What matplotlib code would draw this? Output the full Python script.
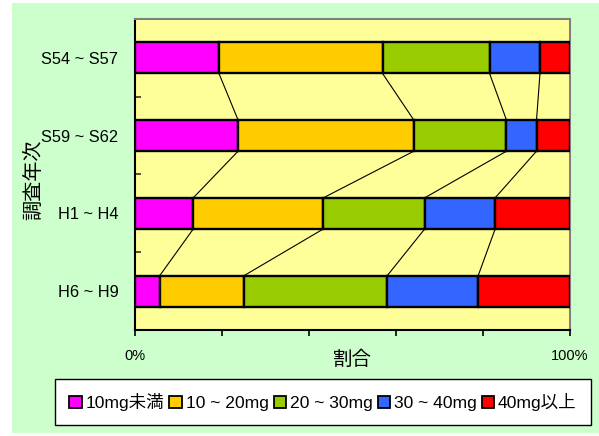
import matplotlib
matplotlib.use("Agg")
import matplotlib.pyplot as plt
from matplotlib.patches import Rectangle
import numpy as np

plt.rcParams['font.family'] = ['Liberation Sans', 'Noto Sans CJK JP', 'DejaVu Sans']

# 調査年次ごとの割合 (%)
periods = ["S54 ~ S57", "S59 ~ S62", "H1 ~ H4", "H6 ~ H9"]
classes = ["10mg未満", "10 ~ 20mg", "20 ~ 30mg", "30 ~ 40mg", "40mg以上"]
colors = ["#FF00FF", "#FFCC00", "#99CC00", "#3366FF", "#FF0000"]

under10 = [19.3, 23.7, 13.4, 5.7]
from10to20 = [37.6, 40.4, 29.9, 19.4]
from20to30 = [24.6, 21.3, 23.3, 32.9]
from30to40 = [11.6, 6.9, 16.2, 20.9]
over40 = [6.9, 7.7, 17.2, 21.1]

series = [under10, from10to20, from20to30, from30to40, over40]

fig = plt.figure(figsize=(5.99, 4.36), dpi=100)
fig.patch.set_facecolor("white")
fig.patches.append(Rectangle((12 / 599, 3 / 436), 1 - 12 / 599, 430 / 436,
                             transform=fig.transFigure, facecolor="#CCFFCC",
                             edgecolor="none", zorder=-10))

ax = fig.add_axes([135 / 599, 106 / 436, 435 / 599, 311 / 436])
ax.set_facecolor("#FFFF99")

data = np.array(series) / 100.0
totals = data.sum(axis=0)
data = data / totals
y = np.arange(len(periods))
bar_h = 0.4
left = np.zeros(len(periods))
handles = []
for vals, col, name in zip(data, colors, classes):
    h = ax.barh(y, vals, left=left, height=bar_h, color=col,
                edgecolor="black", linewidth=1.7, label=name, zorder=3)
    handles.append(h)
    left = left + vals

# 区分線 (series lines between consecutive bars)
cum = np.cumsum(data, axis=0)
for j in range(data.shape[0] - 1):
    for i in range(len(periods) - 1):
        ax.plot([cum[j, i], cum[j, i + 1]], [i + bar_h / 2, i + 1 - bar_h / 2],
                color="black", linewidth=0.8, zorder=2)

ax.set_xlim(0, 1)
ax.set_ylim(len(periods) - 0.5, -0.5)

ax.set_xticks(np.linspace(0, 1, 6))
ax.set_xticklabels(["0%", "", "", "", "", "100%"], fontsize=10.5)
ax.tick_params(axis="x", direction="out", length=4, width=1.2, pad=10,
               color="black")

ax.set_yticks(y)
ax.set_yticklabels(periods, fontsize=11.8)
ax.set_yticks([0.5, 1.5, 2.5], minor=True)
ax.tick_params(axis="y", which="major", length=0, pad=12)
ax.tick_params(axis="y", which="minor", direction="in", length=4, width=1.2,
               color="#333333")

for side in ("top", "right"):
    ax.spines[side].set_color("#808080")
    ax.spines[side].set_linewidth(1.5)
for side in ("left", "bottom"):
    ax.spines[side].set_color("black")
    ax.spines[side].set_linewidth(1.5)

ax.set_xlabel("割合", fontsize=14, labelpad=-9)
fig.text(33 / 599, 1 - 180 / 436, "調査年次", rotation=90, fontsize=14.5,
         ha="center", va="center")

leg = fig.legend(handles=handles, labels=classes, loc="center",
                 bbox_to_anchor=(323 / 599, 1 - 402 / 436), ncol=5,
                 fontsize=12.6, frameon=True, fancybox=False,
                 edgecolor="black", framealpha=1, handlelength=0.72,
                 handleheight=0.72, handletextpad=0.2, columnspacing=0.3,
                 borderpad=0.8, borderaxespad=0)
leg.get_frame().set_linewidth(1.0)
for p in leg.get_patches():
    p.set_linewidth(1.3)

fig.savefig("out.png", dpi=100, facecolor=fig.get_facecolor())
